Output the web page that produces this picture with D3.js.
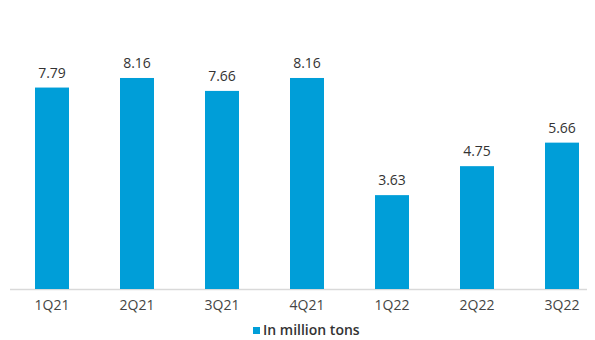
<!DOCTYPE html>
<html>
<head>
<meta charset="utf-8">
<script src="https://cdn.jsdelivr.net/npm/d3@7/dist/d3.min.js"></script>
<style>
  body { margin: 0; background: #fff; }
  text { font-family: "Open Sans", "Noto Sans", sans-serif; }
</style>
</head>
<body>
<script>
const quarters = ["1Q21", "2Q21", "3Q21", "4Q21", "1Q22", "2Q22", "3Q22"];
const tons = [7.79, 8.16, 7.66, 8.16, 3.63, 4.75, 5.66];
const seriesName = "In million tons";

const width = 595, height = 340;
const barColor = "#009ed8";

const svg = d3.select("body").append("svg")
  .attr("width", width)
  .attr("height", height);

const x = d3.scaleBand().domain(quarters).range([9.5, 604.5]).paddingInner(0.6).paddingOuter(0.3);
const y = d3.scaleLinear().domain([0, 10]).range([289, 30.4]);

// baseline
svg.append("line")
  .attr("x1", 10).attr("x2", 587)
  .attr("y1", y(0) + 0.5).attr("y2", y(0) + 0.5)
  .attr("stroke", "#d9d9d9")
  .attr("stroke-width", 1.5);

svg.selectAll("rect.bar")
  .data(tons)
  .join("rect")
  .attr("class", "bar")
  .attr("x", (d, i) => x(quarters[i]))
  .attr("width", x.bandwidth())
  .attr("y", d => y(d))
  .attr("height", d => y(0) - y(d))
  .attr("fill", barColor);

svg.selectAll("text.val")
  .data(tons)
  .join("text")
  .attr("class", "val")
  .attr("x", (d, i) => x(quarters[i]) + x.bandwidth() / 2)
  .attr("y", d => y(d) - 10)
  .attr("text-anchor", "middle")
  .attr("font-size", 14)
  .attr("fill", "#333")
  .text(d => d.toFixed(2));

const xaxis = d3.axisBottom(x).tickSize(0).tickPadding(11);
const gx = svg.append("g")
  .attr("transform", `translate(0,${y(0)})`)
  .call(xaxis);
gx.select(".domain").remove();
gx.selectAll("text")
  .attr("font-size", 14)
  .attr("fill", "#444")
  .style("font-family", "\"Open Sans\", sans-serif");

// legend
const lg = svg.append("g").attr("transform", "translate(253,327)");
lg.append("rect").attr("width", 7).attr("height", 7).attr("fill", barColor);
lg.append("text")
  .attr("x", 10).attr("y", 8)
  .attr("font-size", 14)
  .attr("font-weight", 600)
  .attr("fill", "#333")
  .text(seriesName);
</script>
</body>
</html>
